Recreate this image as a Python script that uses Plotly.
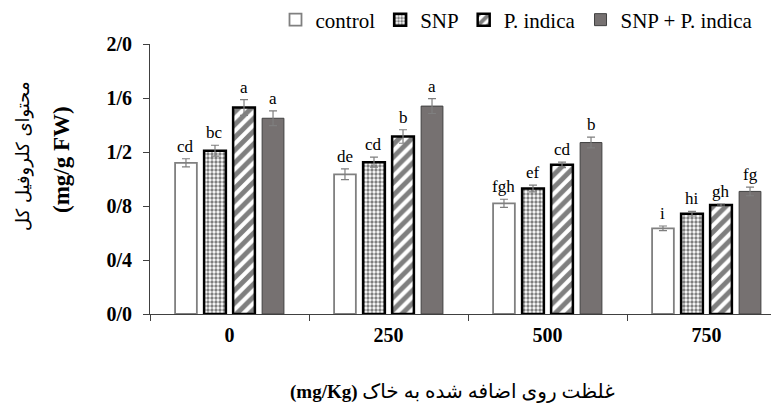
import plotly.graph_objects as go

categories = ["0", "250", "500", "750"]
series_names = ["control", "SNP", "P. indica", "SNP + P. indica"]

control_vals = [1.12, 1.035, 0.82, 0.635]
snp_vals = [1.21, 1.125, 0.93, 0.743]
pind_vals = [1.53, 1.315, 1.105, 0.807]
combo_vals = [1.45, 1.54, 1.27, 0.908]

control_err = [0.03, 0.04, 0.03, 0.017]
snp_err = [0.04, 0.037, 0.025, 0.017]
pind_err = [0.058, 0.05, 0.02, 0.008]
combo_err = [0.055, 0.055, 0.04, 0.032]

control_letters = ["cd", "de", "fgh", "i"]
snp_letters = ["bc", "cd", "ef", "hi"]
pind_letters = ["a", "b", "cd", "gh"]
combo_letters = ["a", "a", "b", "fg"]

y_tickvals = [0, 0.4, 0.8, 1.2, 1.6, 2.0]
y_ticktext = ["0/0", "0/4", "0/8", "1/2", "1/6", "2/0"]

x_title = "<b>(mg/Kg)</b> <span style='font-size:20px'>غلظت روی اضافه شده به خاک</span>"
y_title_fa = "محتوای کلروفیل کل"
y_title_unit = "<b>(mg/g FW)</b>"

SERIF = "Liberation Serif, Times New Roman, DejaVu Sans, serif"

values = [control_vals, snp_vals, pind_vals, combo_vals]
errors = [control_err, snp_err, pind_err, combo_err]
letters = [control_letters, snp_letters, pind_letters, combo_letters]

# page body has an 8px margin: figure is placed at (8, 8) inside the 779x403 window
OFF = 8
PL, PT, PW, PH = 150, 44, 629, 270  # plot area in page pixels


def px(xp):
    return (xp - PL) / PW


def py(yp):
    return (PT + PH - yp) / PH


BARGAP = 0.27
styles = [
    dict(color="white", line=dict(color="#808080", width=1.8)),
    dict(color="white", line=dict(color="black", width=2.5),
         pattern=dict(shape=".", fgcolor="black", bgcolor="white", size=4, solidity=0.55)),
    dict(color="white", line=dict(color="black", width=2.5),
         pattern=dict(shape="/", fgcolor="black", bgcolor="white", size=9, solidity=0.55)),
    dict(color="#767171", line=dict(color="#404040", width=1)),
]

fig = go.Figure()
for name, vals, errs, st in zip(series_names, values, errors, styles):
    fig.add_trace(go.Bar(
        name=name, x=categories, y=vals,
        marker=st,
        error_y=dict(type="data", array=errs, color="#7f7f7f", thickness=1.2, width=4),
    ))

# letter annotations above error bars
n = len(series_names)
slot = (1 - BARGAP) / n
for i, (vals, errs, labs) in enumerate(zip(values, errors, letters)):
    for j, (v, e, lab) in enumerate(zip(vals, errs, labs)):
        xpos = j - (1 - BARGAP) / 2 + slot * (i + 0.5)
        fig.add_annotation(x=xpos, y=v + e, xref="x", yref="y", text=lab,
                           showarrow=False, xanchor="center", yanchor="bottom", yshift=1,
                           font=dict(family=SERIF, size=17, color="black"))

fig.add_annotation(x=px(23), y=py(156), xref="paper", yref="paper",
                   xanchor="center", yanchor="middle",
                   text=y_title_fa, textangle=-90, showarrow=False,
                   font=dict(family="DejaVu Sans, serif", size=18, color="black"))
fig.add_annotation(x=px(61), y=py(160), xref="paper", yref="paper",
                   xanchor="center", yanchor="middle",
                   text=y_title_unit, textangle=-90, showarrow=False,
                   font=dict(family=SERIF, size=23, color="black"))
fig.add_annotation(x=px(452), y=py(392), xref="paper", yref="paper",
                   xanchor="center", yanchor="middle",
                   text=x_title, showarrow=False,
                   font=dict(family=SERIF, size=19, color="black"))

W, H = 779 - OFF, 403 - OFF
fig.update_layout(
    width=W, height=H,
    margin=dict(l=PL - OFF, r=W - (PL - OFF) - PW, t=PT - OFF, b=H - (PT - OFF) - PH,
                autoexpand=False),
    paper_bgcolor="white", plot_bgcolor="white",
    barmode="group", bargap=BARGAP, bargroupgap=0.25,
    font=dict(family=SERIF, color="black"),
    showlegend=True,
    legend=dict(orientation="h", x=px(275.5), xanchor="left",
                y=py(20), yanchor="middle",
                font=dict(family=SERIF, size=21, color="black"),
                itemwidth=30, bgcolor="rgba(0,0,0,0)"),
    xaxis=dict(type="category", range=[-0.5, 3.456], showline=True, linecolor="#404040",
               linewidth=1, ticks="outside", tickson="boundaries", ticklen=6,
               tickcolor="#404040", showgrid=False, zeroline=False,
               tickfont=dict(family=SERIF, size=20, weight="bold", color="black"),
               ticklabelstandoff=3),
    yaxis=dict(range=[0, 2.0], tickvals=y_tickvals, ticktext=y_ticktext,
               showline=True, linecolor="#404040", linewidth=1, ticks="outside",
               ticklen=6, tickcolor="#404040", showgrid=False, zeroline=False,
               tickfont=dict(family=SERIF, size=20, weight="bold", color="black"),
               ticklabelstandoff=7),
)

fig.write_html("out.html")
